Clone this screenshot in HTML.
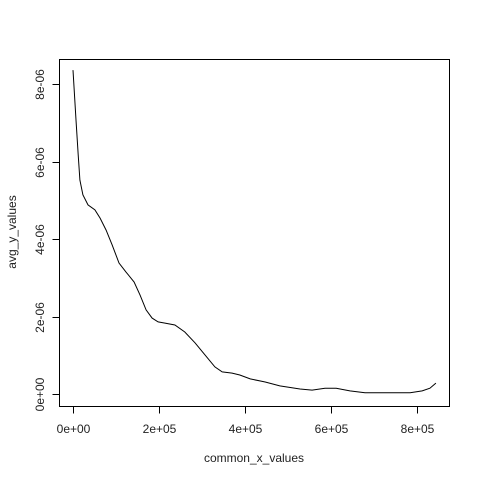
<!DOCTYPE html>
<html><head><meta charset="utf-8"><style>
html,body{margin:0;padding:0;background:#fff;}
svg text{font-family:"Liberation Sans",sans-serif;font-size:12px;fill:#222;}
</style></head><body>
<svg id="chart" width="480" height="480" xmlns="http://www.w3.org/2000/svg">
<rect x="0" y="0" width="480" height="480" fill="#fff"/>
<rect x="59.5" y="59.5" width="390" height="347" fill="none" stroke="#000" stroke-width="1"/>
<g id="xaxis"></g>
<g id="yaxis"></g>
<polyline id="line" fill="none" stroke="#000" stroke-width="1"/>
<text x="254" y="462" text-anchor="middle">common_x_values</text>
<text x="16" y="232" text-anchor="middle" transform="rotate(-90 16 232)">avg_y_values</text>
</svg>
<script>
const xValues=[0,7,12,16,23,35,51,63,77,91,107,123,142,156,170,184,198,214,237,260,284,307,330,347,370,388,412,447,481,528,556,586,612,644,679,737,784,812,830,844];
const yValues=[8.36,7.07,6.17,5.52,5.14,4.88,4.75,4.54,4.23,3.85,3.38,3.15,2.89,2.55,2.17,1.96,1.86,1.83,1.78,1.6,1.32,1.01,0.70,0.57,0.54,0.49,0.39,0.31,0.21,0.13,0.10,0.15,0.15,0.08,0.03,0.03,0.03,0.08,0.15,0.28];
const xTicks=[0,200,400,600,800];
const xTickLabels=["0e+00","2e+05","4e+05","6e+05","8e+05"];
const yTicks=[0,2,4,6,8];
const yTickLabels=["0e+00","2e-06","4e-06","6e-06","8e-06"];
const NS="http://www.w3.org/2000/svg";
function sx(v){return 73+v*0.43;}
function sy(v){return 394-v*38.75;}
const line=document.getElementById('line');
line.setAttribute('points',xValues.map((x,i)=>sx(x).toFixed(1)+','+sy(yValues[i]).toFixed(1)).join(' '));
const xa=document.getElementById('xaxis');
const xl=document.createElementNS(NS,'line');


xl.setAttribute('x1',sx(xTicks[0]));xl.setAttribute('x2',sx(xTicks[xTicks.length-1]));
xl.setAttribute('y1',406.5);xl.setAttribute('y2',406.5);xl.setAttribute('stroke','#000');
xa.appendChild(xl);
xTicks.forEach((t,i)=>{
 const l=document.createElementNS(NS,'line');
 
 
 const x=Math.round(sx(t))+0.5;
 l.setAttribute('x1',x);l.setAttribute('x2',x);l.setAttribute('y1',406.5);l.setAttribute('y2',413.5);l.setAttribute('stroke','#000');
 xa.appendChild(l);
 const tx=document.createElementNS(NS,'text');
 
 
 tx.setAttribute('x',x);tx.setAttribute('y',433);tx.setAttribute('text-anchor','middle');
 tx.textContent=xTickLabels[i];xa.appendChild(tx);
});
const ya=document.getElementById('yaxis');
const yl=document.createElementNS(NS,'line');


yl.setAttribute('x1',59.5);yl.setAttribute('x2',59.5);
yl.setAttribute('y1',sy(yTicks[0]));yl.setAttribute('y2',sy(yTicks[yTicks.length-1]));yl.setAttribute('stroke','#000');
ya.appendChild(yl);
yTicks.forEach((t,i)=>{
 const l=document.createElementNS(NS,'line');
 
 
 const y=Math.round(sy(t))+0.5;
 l.setAttribute('x1',52.5);l.setAttribute('x2',59.5);l.setAttribute('y1',y);l.setAttribute('y2',y);l.setAttribute('stroke','#000');
 ya.appendChild(l);
 const tx=document.createElementNS(NS,'text');
 
 
 tx.setAttribute('x',44);tx.setAttribute('y',y);tx.setAttribute('text-anchor','middle');
 tx.setAttribute('transform','rotate(-90 44 '+y+')');
 tx.textContent=yTickLabels[i];ya.appendChild(tx);
});
</script>
</body></html>
